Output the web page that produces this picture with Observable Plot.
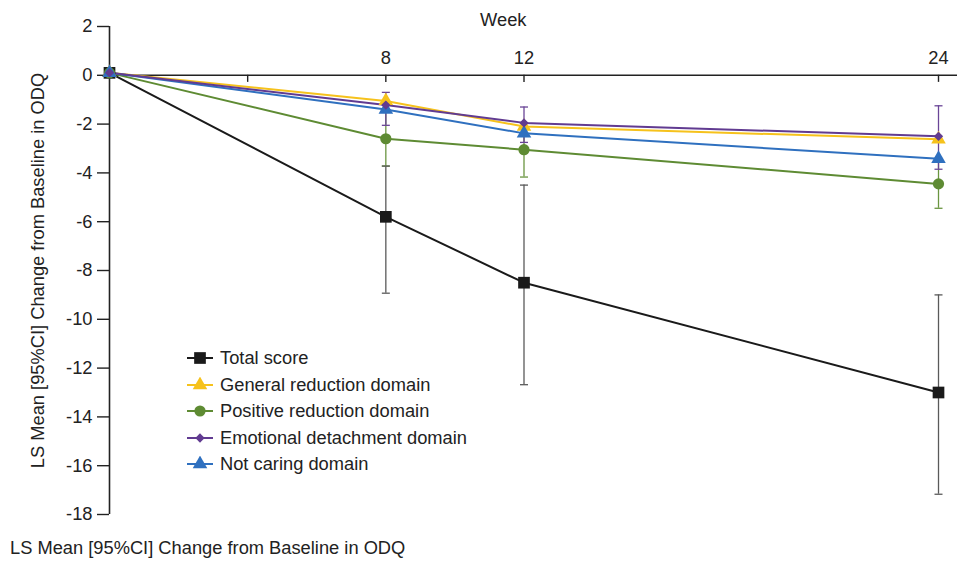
<!DOCTYPE html>
<html>
<head>
<meta charset="utf-8">
<script src="https://cdn.jsdelivr.net/npm/d3@7"></script>
<script src="https://cdn.jsdelivr.net/npm/@observablehq/plot@0.6"></script>
<style>
  html, body { margin: 0; padding: 0; background: #fff; }
  body { width: 957px; height: 562px; position: relative; overflow: hidden;
         font-family: "Liberation Sans", Arial, Helvetica, sans-serif; color: #222; }
  #legend { position: absolute; left: 186px; top: 345px; font-size: 18.3px; }
  .row { display: flex; align-items: center; height: 26.5px; }
  .row svg { margin-right: 6px; }
  #caption { position: absolute; left: 10px; top: 537px; font-size: 18.3px; line-height: 22px; }
</style>
</head>
<body>
<div id="chart"></div>
<div id="legend"></div>
<div id="caption">LS Mean [95%CI] Change from Baseline in ODQ</div>
<script>
// ---- data ----
const weeks = [0, 8, 12, 24];
const xTicks = [4, 8, 12, 24];
const xTickLabels = ["", "8", "12", "24"];
const yTicks = [-18, -16, -14, -12, -10, -8, -6, -4, -2, 0, 2];
const seriesNames = ["Total score", "General reduction domain", "Positive reduction domain", "Emotional detachment domain", "Not caring domain"];
const seriesColors = ["#1a1a1a", "#f6c21c", "#5e8b33", "#613b91", "#2f70bf"];
const seriesSymbols = ["square", "triangle", "circle", "diamond2", "triangle"];

const totalScore = [0.1, -5.8, -8.5, -13.0];
const generalReduction = [0.1, -1.05, -2.1, -2.62];
const positiveReduction = [0.1, -2.6, -3.05, -4.45];
const emotionalDetachment = [0.1, -1.22, -1.95, -2.5];
const notCaring = [0.1, -1.4, -2.38, -3.42];

// 95% CI limits (null where not visible in the source)
const totalLo = [null, -8.93, -12.68, -17.17];
const totalHi = [null, -3.72, -4.5, -9.0];
const positiveLo = [null, -3.72, -4.17, -5.45];
const positiveHi = [null, -1.5, -1.95, -3.45];
const emotionalLo = [null, -2.05, -2.75, -3.85];
const emotionalHi = [null, -0.7, -1.3, -1.25];
const generalLo = [null, null, null, null];
const generalHi = [null, null, null, null];
const notCaringLo = [null, null, null, null];
const notCaringHi = [null, null, null, null];

const seriesValues = [totalScore, generalReduction, positiveReduction, emotionalDetachment, notCaring];
const seriesLo = [totalLo, generalLo, positiveLo, emotionalLo, notCaringLo];
const seriesHi = [totalHi, generalHi, positiveHi, emotionalHi, notCaringHi];
const errorColors = ["#5a5a5a", "#f6c21c", "#6a9540", "#6a4597", "#2f70bf"];
const symbolSizes = [6.6, 5.4, 5.6, 4.2, 5.4];

// ---- build table ----
const rows = [];
seriesNames.forEach((name, si) => {
  weeks.forEach((w, i) => {
    rows.push({series: name, si, week: w, value: seriesValues[si][i], lo: seriesLo[si][i], hi: seriesHi[si][i]});
  });
});
const errRows = rows.filter(d => d.lo != null && d.hi != null);

const capSymbol = { draw(ctx, size) { const w = 4; ctx.moveTo(-w, 0); ctx.lineTo(w, 0); } };
const FS = 18.3;

const marks = [
  // axes lines
  Plot.ruleY([0], {stroke: "#222", strokeWidth: 1.6}),
  Plot.ruleX([0], {y1: -18, y2: 2, stroke: "#222", strokeWidth: 1.6}),
  Plot.ruleX(xTicks, {x: d => d, y1: 0, y2: -0.29, stroke: "#222", strokeWidth: 1.4}),
  Plot.text(xTicks, {x: d => d, y: 0, dy: -17, text: (d, i) => xTickLabels[i], fontSize: FS, fill: "#222"}),
  Plot.text(["Week"], {x: 11.4, y: 2, dy: -6, text: d => d, fontSize: FS, fill: "#222"}),
  Plot.axisY({ticks: yTicks, tickSize: 12, tickPadding: 5, tickFormat: d => String(d), label: null, fontSize: FS, stroke: "#222", strokeWidth: 1.4, color: "#222"}),
  Plot.text(["LS Mean [95%CI] Change from Baseline in ODQ"], {frameAnchor: "left", textAnchor: "middle", rotate: -90, dx: -71, text: d => d, fontSize: FS, fill: "#222"}),
  // error bars
  Plot.ruleX(errRows, {x: "week", y1: "lo", y2: "hi", stroke: d => errorColors[d.si], strokeWidth: 1.3}),
  Plot.dot(errRows, {x: "week", y: "lo", symbol: capSymbol, stroke: d => errorColors[d.si], strokeWidth: 1.3, r: 3}),
  Plot.dot(errRows, {x: "week", y: "hi", symbol: capSymbol, stroke: d => errorColors[d.si], strokeWidth: 1.3, r: 3}),
];
const drawOrder = [0, 1, 2, 4, 3];
for (const si of drawOrder) {
  const data = rows.filter(d => d.si === si);
  marks.push(Plot.line(data, {x: "week", y: "value", stroke: seriesColors[si], strokeWidth: 2}));
}
for (const si of drawOrder) {
  const data = rows.filter(d => d.si === si);
  marks.push(Plot.dot(data, {x: "week", y: "value", symbol: seriesSymbols[si], fill: seriesColors[si], stroke: "none", r: symbolSizes[si]}));
}

const chart = Plot.plot({
  width: 957, height: 525,
  marginLeft: 109, marginRight: 0, marginTop: 26, marginBottom: 11,
  x: {domain: [0, 24.55], axis: null},
  y: {domain: [-18, 2], axis: null},
  style: {fontFamily: "'Liberation Sans', Arial, Helvetica, sans-serif", fontSize: FS + "px", color: "#222", background: "white", overflow: "visible"},
  marks
});
document.getElementById("chart").appendChild(chart);

// ---- legend ----
const symMap = {square: d3.symbolSquare, triangle: d3.symbolTriangle, circle: d3.symbolCircle, diamond2: d3.symbolDiamond2};
const legend = d3.select("#legend");
seriesNames.forEach((name, si) => {
  const row = legend.append("div").attr("class", "row");
  const svg = row.append("svg").attr("width", 28).attr("height", 16);
  svg.append("line").attr("x1", 1).attr("x2", 27).attr("y1", 8).attr("y2", 8)
     .attr("stroke", seriesColors[si]).attr("stroke-width", 2);
  const area = Math.PI * Math.pow(symbolSizes[si], 2);
  svg.append("path").attr("transform", "translate(14,8)")
     .attr("d", d3.symbol(symMap[seriesSymbols[si]], area)())
     .attr("fill", seriesColors[si]);
  row.append("span").text(name);
});
</script>
</body>
</html>
